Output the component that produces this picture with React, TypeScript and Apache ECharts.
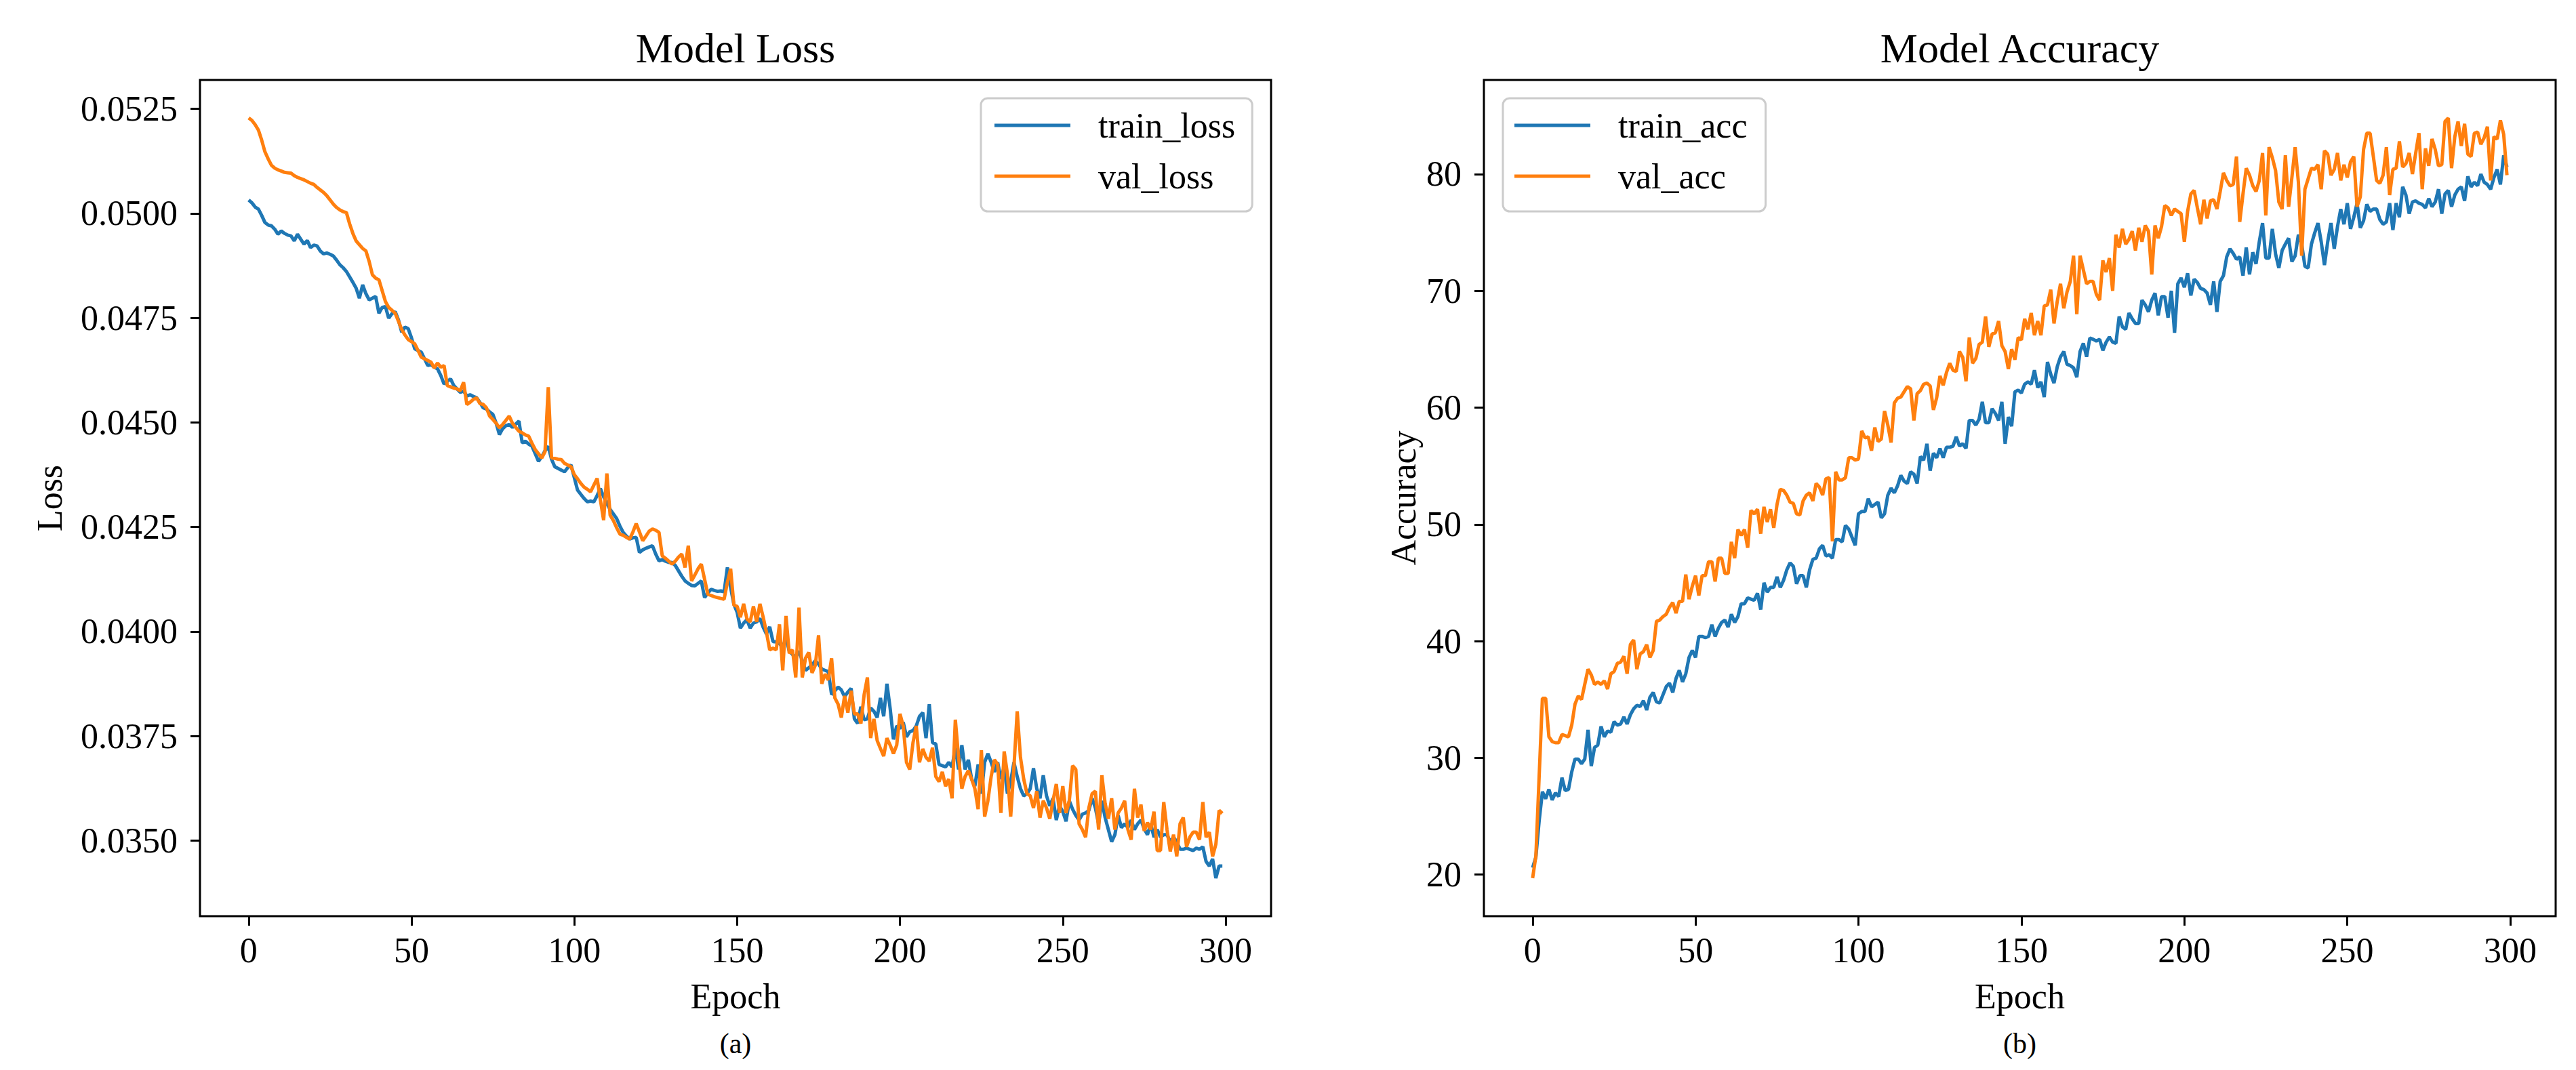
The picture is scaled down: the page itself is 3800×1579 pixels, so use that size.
import React, { useEffect, useRef } from "react";
import * as echarts from "echarts";

// ---------------- data ----------------
const trainLoss = [
  0.05032, 0.05025, 0.05015, 0.0501, 0.04995, 0.04978, 0.04972, 0.0497, 0.04962, 0.0495,
  0.04958, 0.04952, 0.04948, 0.04946, 0.04934, 0.0495, 0.04938, 0.04926, 0.04935, 0.04918,
  0.04924, 0.04922, 0.0491, 0.04903, 0.04905, 0.04902, 0.04898, 0.04888, 0.04877, 0.0487,
  0.04861, 0.04848, 0.04835, 0.04821, 0.04797, 0.04829, 0.04808, 0.04793, 0.04797, 0.04801,
  0.04761, 0.04775, 0.04777, 0.04749, 0.0476, 0.04765, 0.04745, 0.04716, 0.04728, 0.04724,
  0.04702, 0.04676, 0.04672, 0.04668, 0.04652, 0.04636, 0.04638, 0.04632, 0.04628, 0.04612,
  0.04592, 0.04598, 0.04604, 0.04588, 0.0458, 0.04572, 0.04575, 0.04563, 0.04566, 0.04562,
  0.04559, 0.04548, 0.04535, 0.04532, 0.04525, 0.04519, 0.04498, 0.04471, 0.04485, 0.04492,
  0.04495, 0.04488, 0.04496, 0.04503, 0.04451, 0.04455, 0.04448, 0.04443, 0.04425, 0.04407,
  0.04418, 0.04432, 0.04443, 0.04412, 0.04394, 0.0439, 0.04386, 0.04382, 0.04392, 0.04398,
  0.04368, 0.04338, 0.04328, 0.04318, 0.0431, 0.04312, 0.0431, 0.04325, 0.04342, 0.04322,
  0.04306, 0.04292, 0.04281, 0.0427, 0.04252, 0.04237, 0.04228, 0.04221, 0.04224, 0.04225,
  0.04189, 0.04195, 0.04199, 0.04202, 0.04205, 0.04185, 0.04169, 0.04172, 0.04168, 0.04165,
  0.04165, 0.04158, 0.04145, 0.04132, 0.04121, 0.04115, 0.0411, 0.04109, 0.04115, 0.04121,
  0.04081, 0.04092, 0.04101, 0.04098, 0.04096, 0.04097, 0.04095, 0.04153, 0.04105, 0.04065,
  0.04046, 0.04008, 0.0402, 0.04028, 0.04008, 0.0402, 0.04023, 0.04031, 0.0401, 0.03994,
  0.04011, 0.03976, 0.03975, 0.03971, 0.03962, 0.03985, 0.03953, 0.03945, 0.03939, 0.03953,
  0.0393, 0.03907, 0.03913, 0.0392, 0.0393, 0.03922, 0.0391, 0.03907, 0.03904, 0.03849,
  0.03858, 0.03867, 0.0386, 0.03844, 0.03855, 0.03864, 0.03791, 0.0378, 0.0382, 0.03789,
  0.03791, 0.03817, 0.03809, 0.03794, 0.03841, 0.03797, 0.03875, 0.03815, 0.03742, 0.03774,
  0.03768, 0.03783, 0.03748, 0.0376, 0.03763, 0.03774, 0.03797, 0.03806, 0.03745, 0.03826,
  0.03734, 0.03731, 0.03682, 0.03679, 0.03676, 0.03687, 0.03676, 0.03722, 0.0367, 0.03728,
  0.0367, 0.03693, 0.03647, 0.0363, 0.03682, 0.03612, 0.03687, 0.03708, 0.03687, 0.03664,
  0.03687, 0.03647, 0.03676, 0.03612, 0.03641, 0.03687, 0.03653, 0.03624, 0.03607, 0.03612,
  0.03624, 0.03673, 0.03624, 0.03601, 0.03656, 0.03607, 0.03583, 0.03601, 0.03549, 0.03583,
  0.03569, 0.03546, 0.03595, 0.03575, 0.0356, 0.03549, 0.03563, 0.03566, 0.03572, 0.03601,
  0.03578, 0.0354, 0.03595, 0.03555, 0.03526, 0.03497, 0.03514, 0.0356, 0.03531, 0.0354,
  0.03531, 0.03549, 0.03526, 0.0354, 0.03549, 0.03528, 0.03514, 0.0354, 0.03508, 0.03526,
  0.03508, 0.03514, 0.03514, 0.03497, 0.03508, 0.03497, 0.03479, 0.03479, 0.03482, 0.03479,
  0.03476, 0.03482, 0.03479, 0.03485, 0.0345, 0.03439, 0.03456, 0.0341, 0.03439, 0.03439,
];

const valLoss = [
  0.05228, 0.05222, 0.05212, 0.05199, 0.05175, 0.05147, 0.0513, 0.05115, 0.05108, 0.05104,
  0.05101, 0.05098, 0.05097, 0.05096, 0.0509, 0.05086, 0.05083, 0.0508, 0.05076, 0.05072,
  0.05069, 0.05062, 0.05056, 0.0505, 0.05042, 0.05032, 0.05022, 0.05014, 0.05008, 0.05004,
  0.05002, 0.04975, 0.04952, 0.04934, 0.04925, 0.04916, 0.0491, 0.04885, 0.04853, 0.04845,
  0.04841, 0.04815, 0.04789, 0.04775, 0.04768, 0.04761, 0.04742, 0.04722, 0.04709, 0.04698,
  0.04693, 0.04688, 0.04672, 0.04656, 0.04652, 0.04648, 0.04644, 0.0463, 0.04642, 0.04632,
  0.04636, 0.04588, 0.04585, 0.04582, 0.0458, 0.04576, 0.04596, 0.04543, 0.04548, 0.04555,
  0.04559, 0.04545, 0.04543, 0.04535, 0.04515, 0.04507, 0.04498, 0.04487, 0.04495, 0.04505,
  0.04515, 0.04498, 0.04488, 0.04479, 0.04475, 0.0447, 0.04467, 0.0445, 0.04435, 0.04425,
  0.04415, 0.0443, 0.04584, 0.04415, 0.04414, 0.04412, 0.04411, 0.04402, 0.04398, 0.04394,
  0.04375, 0.04365, 0.04354, 0.04345, 0.0434, 0.04334, 0.0435, 0.04366, 0.04315, 0.04266,
  0.04378, 0.04278, 0.04265, 0.04248, 0.04233, 0.0423, 0.04225, 0.04221, 0.04238, 0.04258,
  0.04238, 0.04217, 0.04228, 0.0424, 0.04245, 0.04242, 0.04237, 0.04181, 0.04175, 0.04168,
  0.04161, 0.04168, 0.04178, 0.04185, 0.04153, 0.04205, 0.04121, 0.04135, 0.0415, 0.04161,
  0.04125, 0.04089, 0.04086, 0.04083, 0.04081, 0.04079, 0.04077, 0.04117, 0.0415, 0.04063,
  0.0406, 0.04034, 0.04066, 0.0403, 0.04023, 0.0406, 0.04023, 0.04066, 0.04034, 0.03998,
  0.03956, 0.0396, 0.03956, 0.04017, 0.03907, 0.04037, 0.03948, 0.03956, 0.0389, 0.04057,
  0.0389, 0.03936, 0.0395, 0.03901, 0.03919, 0.03991, 0.03875, 0.03898, 0.03884, 0.03936,
  0.03841, 0.03826, 0.03794, 0.03846, 0.03806, 0.03858, 0.03803, 0.03803, 0.0378, 0.03849,
  0.0389, 0.03745, 0.03791, 0.03739, 0.0372, 0.03702, 0.03745, 0.03728, 0.03708, 0.03728,
  0.03803, 0.03774, 0.03687, 0.0367, 0.03734, 0.03774, 0.03687, 0.03719, 0.03699, 0.0369,
  0.03722, 0.03653, 0.03641, 0.03664, 0.0363, 0.03647, 0.03601, 0.03789, 0.03699, 0.03624,
  0.03653, 0.03667, 0.03647, 0.03624, 0.03575, 0.03716, 0.03557, 0.03595, 0.03653, 0.03693,
  0.03682, 0.03566, 0.03713, 0.03659, 0.03557, 0.03676, 0.03809, 0.03699, 0.03647, 0.03612,
  0.03607, 0.03578, 0.03618, 0.03555, 0.03595, 0.03578, 0.03552, 0.03595, 0.03635, 0.03566,
  0.0363, 0.03566, 0.03595, 0.03679, 0.0367, 0.0354, 0.03526, 0.03508, 0.03578, 0.03612,
  0.03618, 0.03526, 0.03656, 0.03589, 0.03552, 0.03601, 0.03526, 0.03566, 0.03578, 0.03595,
  0.03526, 0.03502, 0.03624, 0.03555, 0.03586, 0.03523, 0.03543, 0.03526, 0.03569, 0.03476,
  0.03476, 0.03592, 0.03526, 0.03474, 0.03514, 0.03462, 0.0354, 0.03555, 0.03485, 0.03508,
  0.0352, 0.0352, 0.03502, 0.03592, 0.03508, 0.0352, 0.03462, 0.03491, 0.03572, 0.03565,
];

const trainAcc = [
  20.6, 21.5, 24.6, 27.1, 26.5, 27.3, 26.4, 27.0, 26.7, 28.3,
  27.2, 27.3, 28.8, 29.9, 29.9, 29.5, 29.9, 32.4, 29.3, 30.9,
  31.1, 32.7, 31.8, 32.3, 32.2, 33.1, 32.8, 32.9, 33.5, 32.9,
  33.7, 34.2, 34.5, 34.4, 34.9, 34.1, 35.2, 35.6, 34.8, 34.7,
  35.4, 36.1, 36.4, 35.6, 36.8, 37.5, 36.5, 37.2, 38.6, 39.2,
  38.6, 40.4, 40.4, 40.3, 40.4, 41.4, 40.4, 41.1, 41.6, 41.8,
  41.2, 42.3, 41.6, 42.1, 43.2, 43.2, 43.7, 43.6, 43.5, 44.1,
  42.7, 45.0, 44.2, 44.6, 44.6, 45.5, 44.6, 45.2, 46.1, 46.7,
  46.4, 44.9, 45.6, 45.6, 44.6, 46.1, 47.0, 47.1, 47.9, 48.2,
  47.3, 47.4, 47.1, 48.7, 48.7, 48.5, 49.9, 49.6, 48.9, 48.2,
  50.9, 51.1, 51.1, 52.2, 51.5, 51.7, 51.9, 50.55, 50.9, 52.5,
  53.1, 52.7, 53.3, 54.2, 53.7, 53.5, 54.5, 54.3, 53.5, 55.8,
  55.5, 56.9, 54.6, 56.1, 55.7, 56.5, 55.7, 56.6, 56.6, 56.7,
  57.5, 56.7, 56.9, 56.5, 58.9, 58.9, 58.5, 59.0, 60.5, 58.7,
  58.7, 59.9, 59.5, 58.9, 60.5, 56.9, 59.2, 58.4, 61.35, 61.5,
  61.25, 62.0, 62.2, 62.0, 63.2, 61.7, 62.2, 60.9, 63.9, 62.85,
  62.1, 63.5, 64.35, 64.8, 63.7, 63.6, 63.4, 62.6, 64.8, 65.5,
  64.35, 65.95, 65.85, 65.7, 65.85, 64.9, 65.6, 66.05, 65.6, 65.5,
  67.8, 66.9, 66.7, 68.1, 67.6, 67.2, 67.2, 69.2, 68.8, 68.2,
  69.2, 69.8, 67.9, 69.5, 69.5, 67.7, 70.0, 66.4, 70.6, 71.1,
  70.3, 71.5, 69.6, 71.0, 70.7, 70.2, 70.1, 69.8, 68.8, 70.8,
  68.2, 70.8, 71.3, 72.9, 73.6, 73.2, 72.7, 72.9, 71.3, 73.7,
  71.4, 73.3, 72.3, 74.2, 75.8, 72.8, 72.8, 75.3, 73.15, 71.95,
  73.45, 74.0, 74.5, 72.5, 73.0, 74.8, 74.0, 72.1, 71.95, 74.0,
  74.95, 75.8, 74.2, 72.2, 74.2, 75.8, 73.6, 75.5, 77.0, 75.7,
  77.5, 75.3, 76.3, 77.5, 75.4, 76.0, 77.4, 76.8, 77.0, 77.0,
  76.1, 75.7, 75.9, 77.5, 75.2, 77.5, 76.3, 78.9, 78.2, 76.6,
  77.6, 77.7, 77.5, 77.4, 77.1, 77.9, 77.2, 77.6, 78.7, 76.6,
  78.3, 78.6, 77.2, 78.2, 78.7, 78.9, 77.7, 79.8, 78.9, 79.3,
  79.0, 80.0, 79.3, 79.1, 78.7, 79.7, 80.4, 79.1, 81.6, 80.6,
];

const valAcc = [
  19.7, 21.6, 28.4, 35.1, 35.1, 31.8, 31.4, 31.3, 31.3, 32.0,
  31.9, 31.8, 32.8, 34.6, 35.3, 35.0, 36.3, 37.6, 37.1, 36.3,
  36.5, 36.3, 36.6, 35.9, 37.2, 37.4, 38.1, 38.2, 38.7, 37.2,
  39.7, 40.1, 37.6, 38.9, 39.1, 39.7, 38.6, 39.2, 41.7, 41.8,
  42.1, 42.3, 42.9, 43.3, 42.4, 43.4, 43.4, 45.7, 43.6, 44.7,
  45.6, 43.9, 45.6, 45.6, 46.8, 46.8, 45.1, 47.1, 47.1, 45.8,
  45.8, 48.5, 47.1, 49.55, 49.05, 49.55, 48.0, 51.2, 50.9, 51.3,
  49.2, 51.5, 50.2, 51.3, 49.7, 51.7, 53.0, 52.9, 52.5, 51.9,
  51.8, 50.9, 50.8, 52.0, 52.5, 52.7, 52.0, 53.5, 53.2, 52.5,
  53.9, 54.0, 48.55, 54.5, 53.8, 53.8, 54.0, 55.7, 55.7, 55.5,
  55.6, 58.0, 57.4, 57.5, 56.3, 58.3, 57.1, 57.3, 59.7, 58.5,
  57.0, 60.4, 60.8, 60.9, 61.35, 61.8, 61.6, 58.9, 61.2, 61.45,
  62.0, 62.1, 61.85, 59.8, 60.85, 62.7, 61.9, 63.0, 63.8, 63.2,
  63.1, 64.8, 64.3, 62.25, 66.0, 63.8, 64.2, 65.4, 65.6, 67.8,
  65.2, 66.3, 66.4, 67.4, 65.3, 64.8, 63.3, 65.0, 64.1, 66.0,
  65.8, 67.6, 66.7, 68.1, 66.2, 67.4, 66.2, 68.7, 68.8, 70.1,
  67.2, 69.1, 70.6, 68.5, 69.9, 70.8, 73.0, 68.0, 73.0, 71.8,
  70.6, 70.8, 70.8, 69.7, 69.2, 72.6, 71.6, 72.8, 70.0, 74.8,
  73.7, 75.3, 74.0, 74.4, 75.1, 73.45, 75.4, 74.2, 75.6, 75.1,
  71.4, 75.6, 74.5, 75.5, 77.3, 77.1, 76.45, 77.0, 76.8, 76.6,
  74.2, 76.8, 78.3, 78.6, 77.1, 75.7, 77.8, 76.2, 77.7, 77.8,
  77.0, 78.5, 80.1, 79.45, 79.0, 79.1, 81.5, 75.9, 78.3, 80.5,
  79.9, 79.0, 78.5, 79.45, 81.8, 76.45, 82.3, 81.4, 80.3, 77.6,
  77.0, 81.6, 77.2, 79.7, 82.3, 79.3, 73.0, 78.7, 79.6, 80.5,
  80.4, 80.8, 78.7, 82.0, 81.7, 79.9, 80.4, 81.8, 79.45, 80.8,
  79.7, 81.05, 81.5, 77.2, 78.05, 82.1, 83.5, 83.5, 81.5, 79.45,
  79.2, 79.9, 82.3, 78.2, 80.4, 80.5, 82.8, 80.6, 80.9, 81.8,
  80.0, 81.8, 83.5, 78.7, 82.2, 80.7, 83.0, 82.1, 80.7, 80.8,
  84.5, 84.8, 80.5, 83.2, 84.5, 82.4, 84.3, 81.7, 81.5, 83.5,
  83.6, 82.55, 83.1, 84.05, 79.45, 83.2, 83.0, 84.6, 83.4, 79.9,
];

const epochTicks = [0, 50, 100, 150, 200, 250, 300];
const lossTicks = [0.035, 0.0375, 0.04, 0.0425, 0.045, 0.0475, 0.05, 0.0525];
const accTicks = [20, 30, 40, 50, 60, 70, 80];

// ---------------- styling ----------------
const FONT = "'Liberation Serif', 'Times New Roman', Times, serif";
const BLUE = "#1f77b4";
const ORANGE = "#ff7f0e";

function paddedRange(lists: number[][]): [number, number] {
  let lo = Infinity;
  let hi = -Infinity;
  lists.forEach((l) => l.forEach((v) => { if (v < lo) lo = v; if (v > hi) hi = v; }));
  const pad = (hi - lo) * 0.05;
  return [lo - pad, hi + pad];
}

export default function App() {
  const ref = useRef<HTMLDivElement>(null);

  useEffect(() => {
    document.body.style.margin = "0";
    if (!ref.current) return;
    const chart = echarts.init(ref.current, null, { renderer: "svg" });

    const epochs = trainLoss.map((_, i) => i);
    const xRange = paddedRange([[epochs[0], epochs[epochs.length - 1]]]);
    const lossRange = paddedRange([trainLoss, valLoss]);
    const accRange = paddedRange([trainAcc, valAcc]);

    const grids = [
      { left: 295, top: 118, width: 1580, height: 1234 },
      { left: 2189, top: 118, width: 1581, height: 1234 },
    ];

    const tickStyle = { show: true, length: 14, lineStyle: { color: "#000", width: 3 } };
    const labelStyle = { color: "#000", fontSize: 52, fontFamily: FONT };

    const xAxis = [0, 1].map((gi) => ({
      type: "value",
      gridIndex: gi,
      position: "bottom",
      min: xRange[0],
      max: xRange[1],
      axisLine: { show: false, onZero: false },
      axisTick: { ...tickStyle, customValues: epochTicks },
      axisLabel: { ...labelStyle, margin: 24, customValues: epochTicks },
      splitLine: { show: false },
    }));

    const yAxis = [
      {
        type: "value",
        gridIndex: 0,
        position: "left",
        min: lossRange[0],
        max: lossRange[1],
        axisLine: { show: false, onZero: false },
        axisTick: { ...tickStyle, customValues: lossTicks },
        axisLabel: {
          ...labelStyle,
          margin: 33,
          customValues: lossTicks,
          formatter: (v: number) => v.toFixed(4),
        },
        splitLine: { show: false },
      },
      {
        type: "value",
        gridIndex: 1,
        position: "left",
        min: accRange[0],
        max: accRange[1],
        axisLine: { show: false, onZero: false },
        axisTick: { ...tickStyle, customValues: accTicks },
        axisLabel: {
          ...labelStyle,
          margin: 33,
          customValues: accTicks,
          formatter: (v: number) => String(Math.round(v)),
        },
        splitLine: { show: false },
      },
    ];

    const mkSeries = (name: string, values: number[], color: string, gi: number, z: number) => ({
      name,
      type: "line",
      xAxisIndex: gi,
      yAxisIndex: gi,
      data: values.map((v, i) => [epochs[i], v]),
      symbol: "none",
      showSymbol: false,
      lineStyle: { color, width: 5 },
      itemStyle: { color },
      emphasis: { disabled: true },
      z,
    });

    const legendBase = {
      orient: "vertical",
      top: 145,
      icon: "rect",
      itemWidth: 112,
      itemHeight: 5,
      itemGap: 23,
      selectedMode: false,
      backgroundColor: "rgba(255,255,255,0.8)",
      borderColor: "#cccccc",
      borderWidth: 3,
      borderRadius: 10,
      textStyle: { color: "#000", fontSize: 52, fontFamily: FONT, padding: [0, 0, 0, 36] },
    };

    const txt = (text: string, x: number, y: number, size: number, rotation = 0) => ({
      type: "text",
      x,
      y,
      rotation,
      silent: true,
      style: {
        text,
        fill: "#000",
        fontSize: size,
        fontFamily: FONT,
        align: "center",
        verticalAlign: "middle",
      },
    });

    const cx0 = grids[0].left + grids[0].width / 2;
    const cx1 = grids[1].left + grids[1].width / 2;

    chart.setOption({
      animation: false,
      backgroundColor: "#ffffff",
      grid: grids.map((g) => ({
        ...g,
        show: true,
        borderColor: "#000",
        borderWidth: 3,
        backgroundColor: "transparent",
        containLabel: false,
      })),
      xAxis,
      yAxis,
      legend: [
        { ...legendBase, left: 1447, padding: [14, 25, 26, 20], data: ["train_loss", "val_loss"] },
        { ...legendBase, left: 2217, padding: [14, 27, 26, 17], data: ["train_acc", "val_acc"] },
      ],
      series: [
        mkSeries("train_loss", trainLoss, BLUE, 0, 2),
        mkSeries("val_loss", valLoss, ORANGE, 0, 3),
        mkSeries("train_acc", trainAcc, BLUE, 1, 2),
        mkSeries("val_acc", valAcc, ORANGE, 1, 3),
      ],
      graphic: {
        elements: [
          txt("Model Loss", cx0, 71, 62),
          txt("Model Accuracy", cx1, 71, 62),
          txt("Epoch", cx0, 1470, 52),
          txt("Epoch", cx1, 1470, 52),
          txt("(a)", cx0, 1540, 42),
          txt("(b)", cx1, 1540, 42),
          txt("Loss", 73, 735, 52, Math.PI / 2),
          txt("Accuracy", 2070, 735, 52, Math.PI / 2),
        ],
      },
    });

    return () => chart.dispose();
  }, []);

  return <div ref={ref} style={{ width: 3800, height: 1579, background: "#fff" }} />;
}
